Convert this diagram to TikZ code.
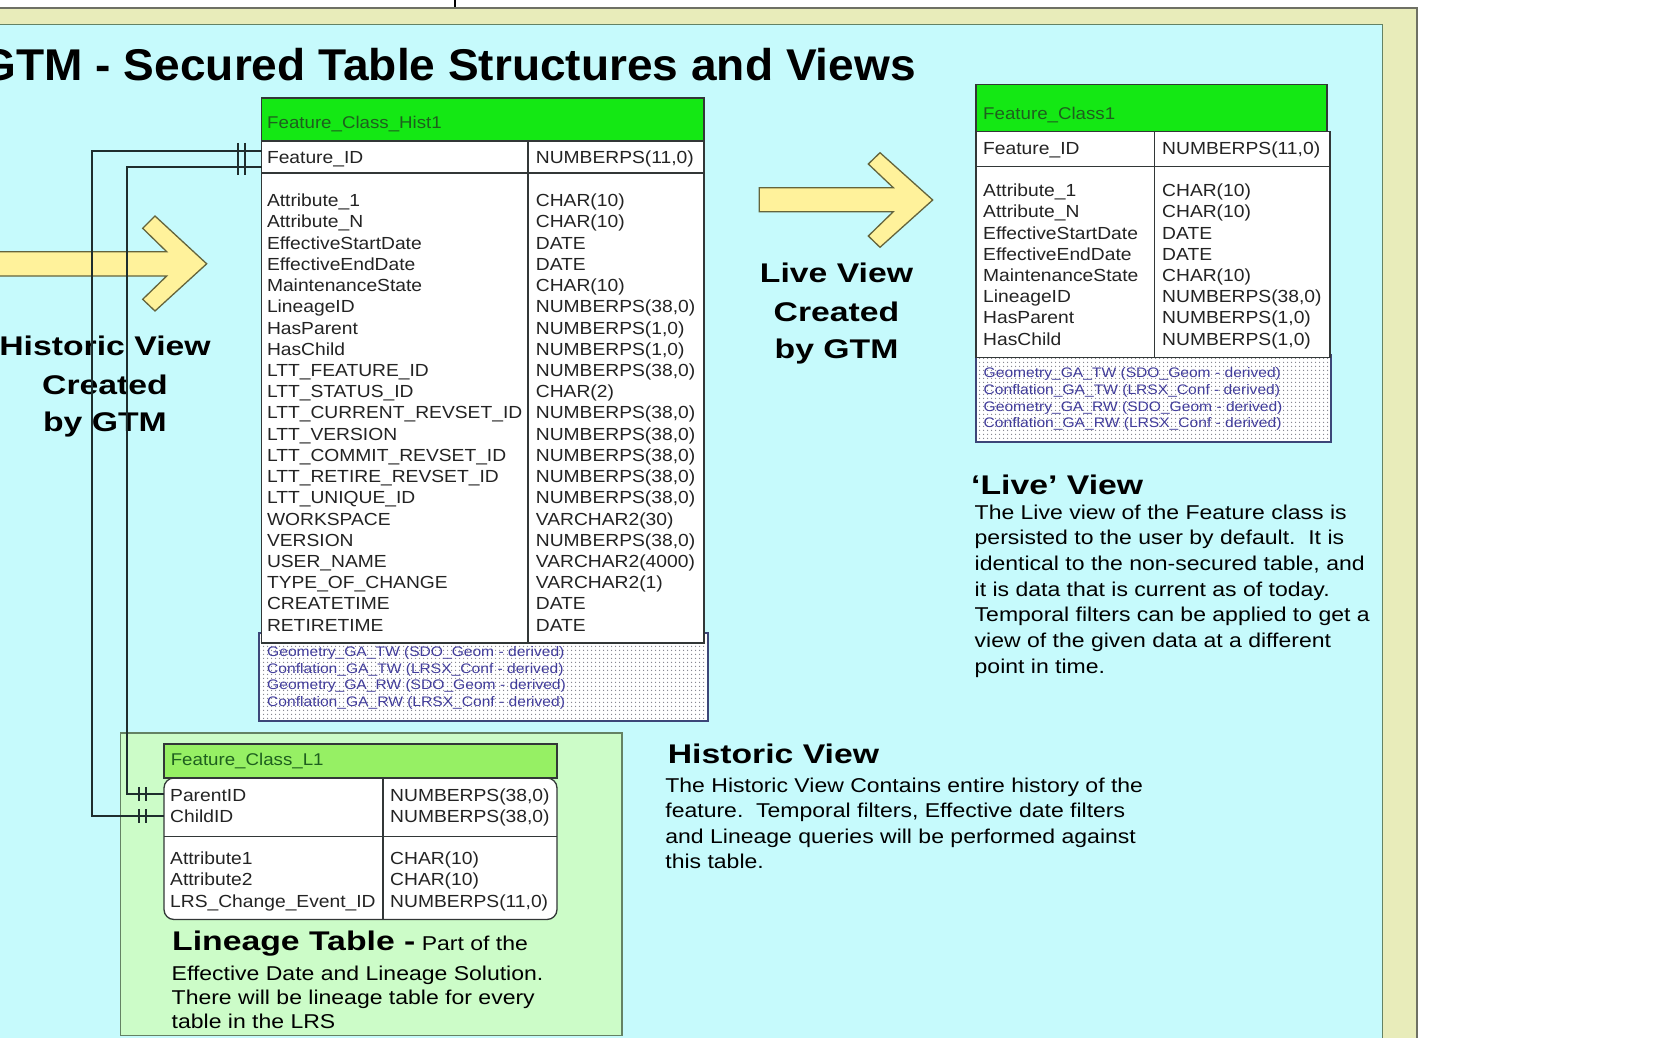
\documentclass[tikz,border=0pt]{standalone}
\usepackage{fontspec}
\setmainfont{Liberation Sans}
\newfontfamily\tabf[FakeStretch=1.1]{Liberation Sans}
\newfontfamily\dotf[FakeStretch=1.13]{Liberation Sans}
\newfontfamily\bodyf[FakeStretch=1.15]{Liberation Sans}
\newfontfamily\labf[FakeStretch=1.25]{Liberation Sans}
\newfontfamily\titf[FakeStretch=1.035]{Liberation Sans}
\usetikzlibrary{patterns.meta}
\definecolor{cyanbg}{RGB}{198,250,252}
\definecolor{beige}{RGB}{232,236,186}
\definecolor{framec}{RGB}{110,112,100}
\definecolor{hgreen}{RGB}{20,232,20}
\definecolor{lgreen}{RGB}{150,240,100}
\definecolor{panelc}{RGB}{204,252,200}
\definecolor{panelline}{RGB}{100,130,100}
\definecolor{hdrtxt}{RGB}{30,95,30}
\definecolor{dtxt}{RGB}{65,60,155}
\definecolor{dotc}{RGB}{125,125,135}
\definecolor{dotline}{RGB}{60,70,120}
\definecolor{arrowfill}{RGB}{255,242,155}
\definecolor{arrowline}{RGB}{100,100,60}
\definecolor{connc}{RGB}{30,45,45}
\definecolor{tabline}{RGB}{50,55,55}
\definecolor{tabtxt}{RGB}{35,35,35}
\begin{document}
\begin{tikzpicture}[x=1pt,y=-1pt,
 tb/.style={draw=tabline, line width=1.3pt},
 tt/.style={anchor=base west, inner sep=0pt, text=tabtxt, font={\tabf\fontsize{17.5}{21}\selectfont}},
 ht/.style={anchor=base west, inner sep=0pt, text=hdrtxt, font={\tabf\fontsize{17}{20}\selectfont}},
 dt/.style={anchor=base west, inner sep=0pt, text=dtxt, font={\dotf\fontsize{13.8}{16}\selectfont}},
 bt/.style={anchor=base west, inner sep=0pt, text=black, font={\bodyf\fontsize{20}{24}\selectfont}},
 lb/.style={inner sep=0pt, text=black, font={\labf\bfseries\fontsize{27}{32}\selectfont}},
 conn/.style={draw=connc, line width=2pt},
 blockarrow/.style={fill=arrowfill, draw=arrowline, line width=1.3pt, line join=miter},
 dotbox/.style={preaction={fill=white}, pattern={Dots[distance=4pt,radius=0.8pt]}, pattern color=dotc, draw=dotline, line width=1.2pt}
]
\useasboundingbox (0,0) rectangle (1660,1038);
\clip (0,0) rectangle (1660,1038);
% background and frame
\fill[white] (0,0) rectangle (1660,1038);
\draw[fill=beige, draw=framec, line width=2pt] (-5,8.5) rectangle (1416.5,1045);
\draw[fill=cyanbg, draw=panelline, line width=0.8pt] (-5,24) rectangle (1382,1045);
\draw[black, line width=1.3pt] (455,0) -- (455,7);
% title
\node[anchor=base east, inner sep=0pt, font={\titf\bfseries\fontsize{44.5}{50}\selectfont}] (title) at (916,81) {GTM - Secured Table Structures and Views};
% block arrows
\draw[blockarrow] (-3,251.7) -- (166.7,251.7) -- (142.7,228.3) -- (155,216) -- (206.7,263.8) -- (155,311) -- (142.7,299.3) -- (166.7,276) -- (-3,276) -- cycle;
\draw[blockarrow] (759.3,187.7) -- (893.3,187.7) -- (868.3,164) -- (880,152.7) -- (932.7,200) -- (880,247.3) -- (868.3,236) -- (893.3,211.7) -- (759.3,211.7) -- cycle;
% big labels
\node[lb, anchor=base] (hv1) at (105,355) {Historic View};
\node[lb, anchor=base] (hv2) at (105,394) {Created};
\node[lb, anchor=base] (hv3) at (105,431.7) {by GTM};
\node[lb, anchor=base] (lv1) at (836.5,282.7) {Live View};
\node[lb, anchor=base] (lv2) at (836.5,321.5) {Created};
\node[lb, anchor=base] (lv3) at (836.5,358.5) {by GTM};

% ---------- Feature_Class_Hist1 ----------
\draw[dotbox] (259,633) rectangle (708,721);
\draw[tb, fill=hgreen] (261.5,98) rectangle (704,141);
\draw[tb, fill=white] (261.5,141) rectangle (704,643);
\draw[tb] (261.5,173) -- (704,173);
\draw[tb] (528,141) -- (528,643);
\node[ht] (h1title) at (267,129) {Feature\_Class\_Hist1};
\node[tt] (h1k) at (266.8,164) {Feature\_ID};
\node[tt] (h1kt) at (535.7,164) {NUMBERPS(11,0)};
\foreach [count=\i from 0] \a/\b in {
 Attribute\_1/{CHAR(10)}, Attribute\_N/{CHAR(10)}, EffectiveStartDate/DATE, EffectiveEndDate/DATE,
 MaintenanceState/{CHAR(10)}, LineageID/{NUMBERPS(38,0)}, HasParent/{NUMBERPS(1,0)}, HasChild/{NUMBERPS(1,0)},
 LTT\_FEATURE\_ID/{NUMBERPS(38,0)}, LTT\_STATUS\_ID/{CHAR(2)}, LTT\_CURRENT\_REVSET\_ID/{NUMBERPS(38,0)},
 LTT\_VERSION/{NUMBERPS(38,0)}, LTT\_COMMIT\_REVSET\_ID/{NUMBERPS(38,0)}, LTT\_RETIRE\_REVSET\_ID/{NUMBERPS(38,0)},
 LTT\_UNIQUE\_ID/{NUMBERPS(38,0)}, WORKSPACE/{VARCHAR2(30)}, VERSION/{NUMBERPS(38,0)}, USER\_NAME/{VARCHAR2(4000)},
 TYPE\_OF\_CHANGE/{VARCHAR2(1)}, CREATETIME/DATE, RETIRETIME/DATE} {
  \node[tt] (h1n\i) at (266.8,{206.7+21.22*\i}) {\a};
  \node[tt] (h1t\i) at (535.7,{206.7+21.22*\i}) {\b};
}
\foreach [count=\i from 0] \g in {Geometry\_GA\_TW (SDO\_Geom - derived), Conflation\_GA\_TW (LRSX\_Conf - derived),
 Geometry\_GA\_RW (SDO\_Geom - derived), Conflation\_GA\_RW (LRSX\_Conf - derived)} {
  \node[dt] (h1g\i) at (267,{656.8+16.5*\i}) {\g};
}

% ---------- Feature_Class1 ----------
\draw[dotbox] (976,355) rectangle (1331,442);
\draw[tb, fill=hgreen] (976,84.5) rectangle (1327,131.5);
\draw[tb, fill=white] (976,131.5) rectangle (1330,357.5);
\draw[tb] (976,166.5) -- (1330,166.5);
\draw[tb] (1154.5,131.5) -- (1154.5,357.5);
\node[ht] (c1title) at (983,119.3) {Feature\_Class1};
\node[tt] (c1k) at (983,155) {Feature\_ID};
\node[tt] (c1kt) at (1162,155) {NUMBERPS(11,0)};
\foreach [count=\i from 0] \a/\b in {
 Attribute\_1/{CHAR(10)}, Attribute\_N/{CHAR(10)}, EffectiveStartDate/DATE, EffectiveEndDate/DATE,
 MaintenanceState/{CHAR(10)}, LineageID/{NUMBERPS(38,0)}, HasParent/{NUMBERPS(1,0)}, HasChild/{NUMBERPS(1,0)}} {
  \node[tt] (c1n\i) at (983,{196.7+21.2*\i}) {\a};
  \node[tt] (c1t\i) at (1162,{196.7+21.2*\i}) {\b};
}
\foreach [count=\i from 0] \g in {Geometry\_GA\_TW (SDO\_Geom - derived), Conflation\_GA\_TW (LRSX\_Conf - derived),
 Geometry\_GA\_RW (SDO\_Geom - derived), Conflation\_GA\_RW (LRSX\_Conf - derived)} {
  \node[dt] (c1g\i) at (983.5,{377.8+16.7*\i}) {\g};
}

% ---------- Feature_Class_L1 ----------
\draw[fill=panelc, draw=panelline, line width=1.3pt] (120.5,733) rectangle (622,1035.5);
\draw[tb, fill=white, rounded corners=10pt] (164,778) rectangle (557,919.5);
\draw[tb, fill=lgreen] (164,744) rectangle (557,778);
\draw[tb] (164,836.7) -- (557,836.7);
\draw[tb] (383,778) -- (383,919.5);
\node[ht] (l1title) at (170.6,765.7) {Feature\_Class\_L1};
\node[tt] (l1n0) at (170,801) {ParentID};
\node[tt] (l1t0) at (390,801) {NUMBERPS(38,0)};
\node[tt] (l1n1) at (170,822) {ChildID};
\node[tt] (l1t1) at (390,822) {NUMBERPS(38,0)};
\node[tt] (l1n2) at (170,864) {Attribute1};
\node[tt] (l1t2) at (390,864) {CHAR(10)};
\node[tt] (l1n3) at (170,885.7) {Attribute2};
\node[tt] (l1t3) at (390,885.7) {CHAR(10)};
\node[tt] (l1n4) at (170,907.3) {LRS\_Change\_Event\_ID};
\node[tt] (l1t4) at (390,907.3) {NUMBERPS(11,0)};
\node[bt] (ltab) at (172,950) {{\labf\bfseries\fontsize{27}{32}\selectfont Lineage Table -} Part of the};
\foreach [count=\i from 0] \t in {Effective Date and Lineage Solution., There will be lineage table for every, table in the LRS} {
  \node[bt] (ltx\i) at (171.5,{980+24.2*\i}) {\t};
}

% ---------- connectors ----------
\coordinate (h1top) at (261.5,151);
\coordinate (h1bot) at (261.5,167);
\coordinate (l1par) at (164,794);
\coordinate (l1chi) at (164,816);
\draw[conn] (h1top) -- (91.7,151) |- (l1chi);
\draw[conn] (h1bot) -- (126.5,167) |- (l1par);
\foreach \y in {151,167} {
  \draw[conn] (238.3,\y-8) -- (238.3,\y+8);
  \draw[conn] (245.3,\y-8) -- (245.3,\y+8);
}
\foreach \y in {794,816} {
  \draw[conn] (139,\y-7) -- (139,\y+7);
  \draw[conn] (146,\y-7) -- (146,\y+7);
}

% ---------- descriptions ----------
\node[lb, anchor=base west] (livehead) at (971,494.3) {‘Live’ View};
\foreach [count=\i from 0] \t in {{The Live view of the Feature class is}, {persisted to the user by default.\ \ It is},
 {identical to the non-secured table, and}, {it is data that is current as of today.},
 {Temporal filters can be applied to get a}, {view of the given data at a different}, {point in time.}} {
  \node[bt] (lvt\i) at (974.5,{519+25.7*\i}) {\t};
}
\node[lb, anchor=base west] (histhead) at (667.6,763.3) {Historic View};
\foreach [count=\i from 0] \t in {{The Historic View Contains entire history of the}, {feature.\ \ Temporal filters, Effective date filters},
 {and Lineage queries will be performed against}, {this table.}} {
  \node[bt] (hvt\i) at (665.2,{792.7+25.2*\i}) {\t};
}
\end{tikzpicture}
\end{document}
